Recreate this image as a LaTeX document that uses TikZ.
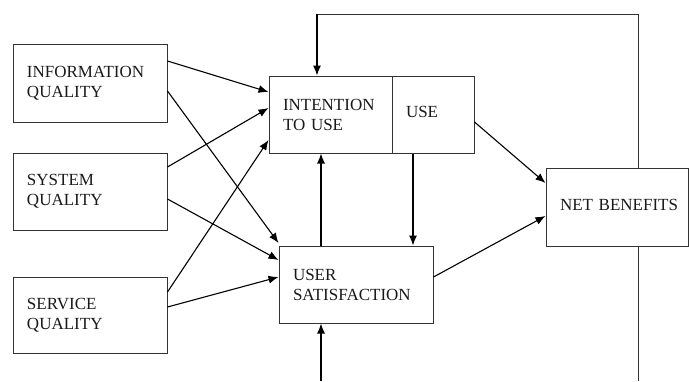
\documentclass[tikz,border=0pt]{standalone}
\usepackage{fontspec}
\setmainfont{Liberation Serif}
\usetikzlibrary{arrows.meta,calc}
\begin{document}
\begin{tikzpicture}[x=1pt,y=-1pt,
  box/.style={draw=black!80,line width=1pt,rectangle,inner xsep=14pt,inner ysep=0pt,
    align=left,font=\fontsize{17}{20}\selectfont,text=black!90},
  arr/.style={draw=black,line width=1.1pt,-{Latex[length=10pt,width=8pt]}},
  ln/.style={draw=black!80,line width=1pt}]
\useasboundingbox (0,0) rectangle (689,381);
\node[box,minimum width=154pt,minimum height=78pt,text width=126pt] (info) at (90,83) {INFORMATION\\QUALITY};
\node[box,minimum width=154pt,minimum height=77pt,text width=126pt] (sys) at (90,191.5) {SYSTEM\\QUALITY};
\node[box,minimum width=154pt,minimum height=76pt,text width=126pt] (serv) at (90,315) {SERVICE\\QUALITY};
\node[box,minimum width=123pt,minimum height=77pt,text width=95pt] (intent) at (330.5,114.5) {\raisebox{2pt}{\parbox{95pt}{INTENTION\\TO USE}}};
\node[box,minimum width=82pt,minimum height=77pt,text width=54pt] (use) at (433,114.5) {\raisebox{5pt}{USE}};
\node[box,minimum width=154pt,minimum height=77pt,text width=126pt] (us) at (356,284.5) {USER\\SATISFACTION};
\node[box,minimum width=142pt,minimum height=78pt,text width=114pt] (nb) at (617,207) {\raisebox{4pt}{NET BENEFITS}};
\coordinate (bot) at (321,381);
\coordinate (fbtop) at (638,14);
\coordinate (fbbot) at (638,381);
% inputs
\draw[arr] ([yshift=22pt]info.east) -- ([yshift=22.5pt]intent.west);
\draw[arr] ([yshift=-8pt]info.east) -- ([yshift=41.5pt]us.west);
\draw[arr] ([yshift=24.5pt]sys.east) -- ([yshift=6.5pt]intent.west);
\draw[arr] ([yshift=-7.5pt]sys.east) -- ([yshift=24.5pt]us.west);
\draw[arr] ([yshift=23pt]serv.east) -- ([yshift=-25.5pt]intent.west);
\draw[arr] ([yshift=8pt]serv.east) -- ([yshift=7.5pt]us.west);
% middle
\draw[arr] ([xshift=-35pt]us.north) -- ([xshift=-35pt]us.north |- intent.south);
\draw[arr] ([xshift=-20pt]use.south) -- ([xshift=-20pt]use.south |- us.north);
\draw[arr] (bot) -- (bot |- us.south);
\draw[arr] ([yshift=-7.5pt]use.east) -- ([yshift=24pt]nb.west);
\draw[arr] ([yshift=7.5pt]us.east) -- ([yshift=-9pt]nb.west);
% feedback
\draw[ln] (fbtop |- nb.north) -- (fbtop) -- ([xshift=-13.5pt]intent.north |- fbtop);
\draw[arr] ([xshift=-13.5pt]intent.north |- fbtop) -- ([xshift=-13.5pt]intent.north);
\draw[ln] (fbbot |- nb.south) -- (fbbot);
\end{tikzpicture}
\end{document}
